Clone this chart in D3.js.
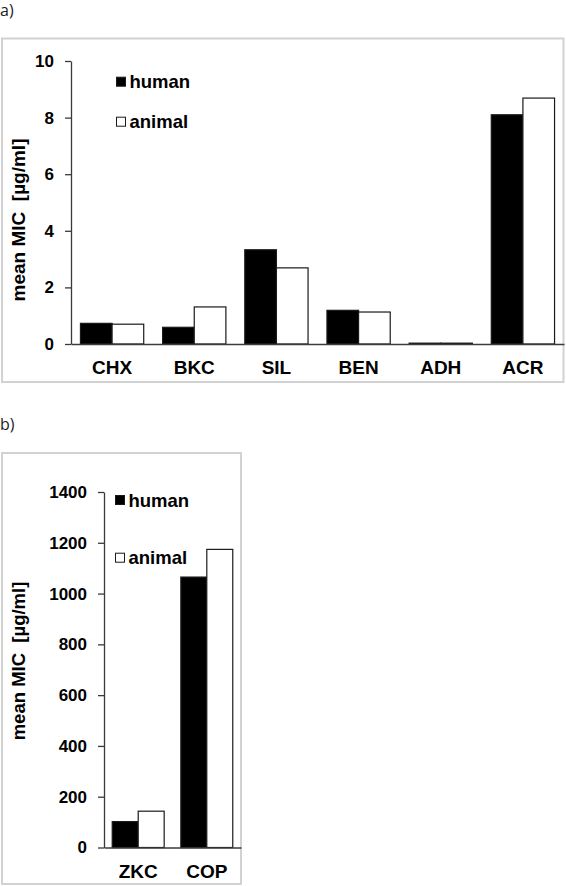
<!DOCTYPE html>
<html>
<head>
<meta charset="utf-8">
<script src="https://cdn.jsdelivr.net/npm/d3@7"></script>
<style>
  html, body { margin: 0; padding: 0; background: #ffffff; }
  svg { display: block; }
  text { font-family: "Liberation Sans", Arial, sans-serif; }
</style>
</head>
<body>
<script>
// ---- Data ----
const seriesNames = ["human", "animal"];
const seriesColors = ["#000000", "#ffffff"];

const categoriesA = ["CHX", "BKC", "SIL", "BEN", "ADH", "ACR"];
const humanA  = [0.73, 0.59, 3.33, 1.19, 0.03, 8.10];
const animalA = [0.70, 1.31, 2.69, 1.13, 0.03, 8.69];
const ticksA  = [0, 2, 4, 6, 8, 10];

const categoriesB = ["ZKC", "COP"];
const humanB  = [102, 1065];
const animalB = [143, 1174];
const ticksB  = [0, 200, 400, 600, 800, 1000, 1200, 1400];

const yLabel = "mean MIC  [µg/ml]";
const panelLabels = ["a)", "b)"];

// ---- Drawing ----
const W = 566, H = 886;
const svg = d3.select("body").append("svg").attr("width", W).attr("height", H);

function drawPanel(cfg) {
  const g = svg.append("g");
  // panel letter
  g.append("text").attr("x", 0).attr("y", cfg.letterY)
    .style("font-family", "'Open Sans', 'Noto Sans', sans-serif")
    .style("font-size", "16px").attr("fill", "#222").text(cfg.letter);
  // frame
  g.append("rect").attr("x", cfg.frame[0]).attr("y", cfg.frame[1])
    .attr("width", cfg.frame[2]).attr("height", cfg.frame[3])
    .attr("fill", "none").attr("stroke", "#d2d2d2").attr("stroke-width", 2);

  const x = d3.scaleBand().domain(cfg.categories).range(cfg.xRange)
    .paddingInner(cfg.padInner).paddingOuter(cfg.padOuter);
  const xs = d3.scaleBand().domain(seriesNames).range([0, x.bandwidth()]);
  const y = d3.scaleLinear().domain(cfg.yDomain).range(cfg.yRange);
  const color = d3.scaleOrdinal().domain(seriesNames).range(seriesColors);

  const rows = cfg.categories.map((c, i) => ({
    cat: c,
    vals: [{s: "human", v: cfg.human[i]}, {s: "animal", v: cfg.animal[i]}]
  }));

  const groups = g.selectAll("g.cat").data(rows).join("g")
    .attr("class", "cat")
    .attr("transform", d => `translate(${x(d.cat)},0)`);
  groups.selectAll("rect").data(d => d.vals).join("rect")
    .attr("x", d => xs(d.s))
    .attr("width", xs.bandwidth())
    .attr("y", d => y(d.v))
    .attr("height", d => y(0) - y(d.v))
    .attr("fill", d => color(d.s))
    .attr("stroke", "#1a1a1a")
    .attr("stroke-width", 1.2);

  // y axis
  const yAxis = g.append("g").attr("transform", `translate(${cfg.xRange[0]},0)`)
    .call(d3.axisLeft(y).tickValues(cfg.ticks).tickFormat(d3.format("d"))
      .tickSize(6).tickSizeOuter(0).tickPadding(11));
  yAxis.select(".domain").attr("stroke", "#3a3a3a").attr("stroke-width", 1.3);
  yAxis.selectAll(".tick line").attr("stroke", "#3a3a3a").attr("stroke-width", 1.3);
  yAxis.selectAll(".tick text").style("font-size", "17px").style("font-weight", "bold")
    .attr("fill", "#000");

  // x axis
  const xAxis = g.append("g").attr("transform", `translate(0,${y(0)})`)
    .call(d3.axisBottom(x).tickSize(0).tickSizeOuter(0).tickPadding(17));
  xAxis.select(".domain").attr("stroke", "#3a3a3a").attr("stroke-width", 1.3);
  xAxis.selectAll(".tick text").style("font-size", "19px").style("font-weight", "bold")
    .attr("fill", "#000");

  // y label
  g.append("text")
    .attr("transform", `translate(${cfg.yLabelX},${cfg.yLabelY}) rotate(-90)`)
    .attr("text-anchor", "middle")
    .attr("xml:space", "preserve")
    .style("white-space", "pre")
    .style("font-size", cfg.yLabelSize + "px").style("font-weight", "bold")
    .attr("fill", "#000")
    .text(yLabel);

  // legend
  const leg = g.selectAll("g.leg").data(seriesNames).join("g")
    .attr("class", "leg")
    .attr("transform", (d, i) => `translate(${cfg.legX},${cfg.legY[i]})`);
  leg.append("rect").attr("x", 0).attr("y", -4.5).attr("width", 9).attr("height", 9)
    .attr("fill", d => color(d)).attr("stroke", "#1a1a1a").attr("stroke-width", 1);
  leg.append("text").attr("x", 13).attr("dy", "0.36em")
    .style("font-size", "18.5px").style("font-weight", "bold").attr("fill", "#000")
    .text(d => d);
}

drawPanel({
  letter: panelLabels[0], letterY: 16,
  frame: [2, 38.5, 561.5, 343.5],
  categories: categoriesA, human: humanA, animal: animalA, ticks: ticksA,
  xRange: [71, 564], padInner: 0.23, padOuter: 0.115,
  yDomain: [0, 10], yRange: [344, 61],
  yLabelX: 25, yLabelY: 220, yLabelSize: 19,
  legX: 116.5, legY: [81.7, 121.7]
});

drawPanel({
  letter: panelLabels[1], letterY: 430,
  frame: [2, 453, 239, 431],
  categories: categoriesB, human: humanB, animal: animalB, ticks: ticksB,
  xRange: [104, 241], padInner: 0.243, padOuter: 0.12,
  yDomain: [0, 1400], yRange: [847.5, 492],
  yLabelX: 25, yLabelY: 661, yLabelSize: 18.5,
  legX: 115.5, legY: [500, 557.7]
});
</script>
</body>
</html>
